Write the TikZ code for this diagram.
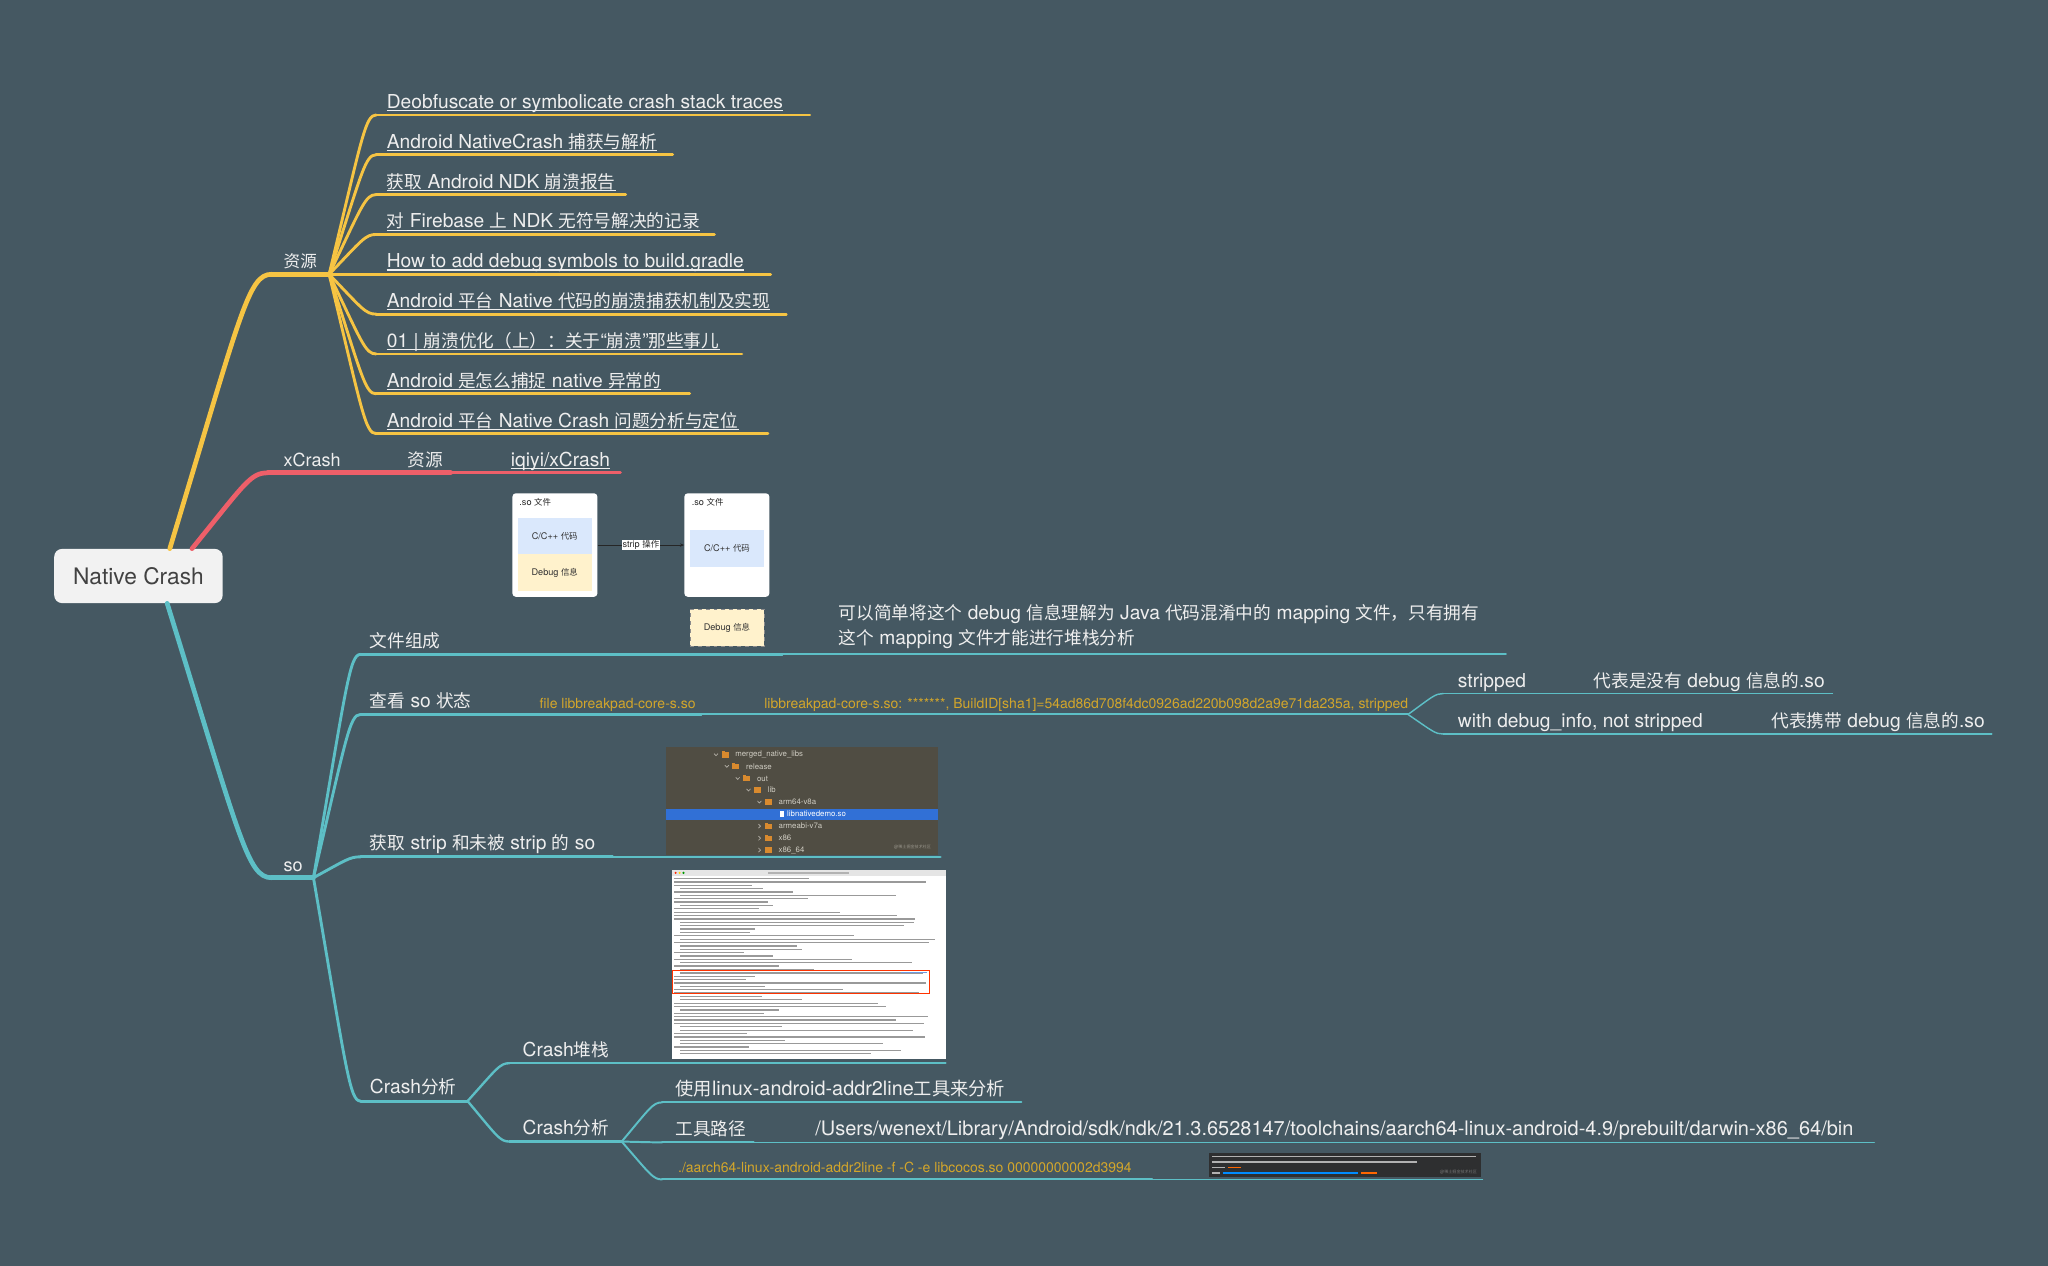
\documentclass[tikz,border=0pt]{standalone}
\usepackage{fontspec}
\setmainfont{TeX Gyre Heros}
\newfontfamily\cjkfont[Scale=0.92]{Noto Sans CJK SC}
\usetikzlibrary{calc,arrows.meta}

% automatic switch to the CJK family for Han characters and fullwidth forms
\XeTeXinterchartokenstate=1
\newXeTeXintercharclass\hanclass
\newcount\hanloop
\hanloop="2E80
\loop
  \XeTeXcharclass\hanloop=\hanclass
  \advance\hanloop by 1
\ifnum\hanloop<"A000 \repeat
\hanloop="FF00
\loop
  \XeTeXcharclass\hanloop=\hanclass
  \advance\hanloop by 1
\ifnum\hanloop<"FFF0 \repeat
\XeTeXcharclass"201C=0
\XeTeXcharclass"201D=0
\XeTeXinterchartoks 0 \hanclass = {\cjkfont}
\XeTeXinterchartoks 4095 \hanclass = {\cjkfont}
\XeTeXinterchartoks \hanclass 0 = {\rmfamily}
\XeTeXinterchartoks \hanclass 4095 = {\rmfamily}

\definecolor{bg}{HTML}{455862}
\definecolor{yel}{HTML}{F6C443}
\definecolor{redb}{HTML}{EE5F69}
\definecolor{tealb}{HTML}{5DBFC6}
\definecolor{txt}{HTML}{EEEEEE}
\definecolor{codec}{HTML}{D3A62B}
\definecolor{rootfill}{HTML}{F2F2F2}
\definecolor{roottext}{HTML}{424242}
\definecolor{dblue}{HTML}{DAE8FC}
\definecolor{dyel}{HTML}{FFF2CC}
\definecolor{treebg}{HTML}{504D43}
\definecolor{treetx}{HTML}{CFCCC2}
\definecolor{folder}{HTML}{D98A2E}
\definecolor{hl}{HTML}{3170D6}
\definecolor{termbg}{HTML}{2E2F30}

% a topic's underline: named start/end coordinates
\newcommand\topicline[5]{%
  \coordinate (#1-s) at (#2,#4);\coordinate (#1-e) at (#3,#4);
  \draw[#5] (#1-s) -- (#1-e);}
% curved branch from a parent's end to a child's start
\newcommand\branchto[3]{%
  \draw[#1] let \p1=(#2), \p2=(#3) in (\p1) .. controls
    ({\x1+0.7*(\x2-\x1)},{\y1+0.86*(\y2-\y1)}) and ({\x1+0.77*(\x2-\x1)},\y2) .. (\p2);}
% underlined link text
\newcommand\ulabel[3]{%
  \node[lab] (#1) at (#2) {#3};
  \draw[uline] ([yshift=-1.7pt]#1.base west) -- ([yshift=-1.7pt]#1.base east);}
% a folder row of the file tree
\newcommand\treedir[5]{%
  \pgfmathsetmacro\tcx{548.2+8.3*#3}%
  \ifnum#4=1
    \draw[chev] (\tcx-1.5,#2-0.9) -- (\tcx,#2+0.7) -- (\tcx+1.5,#2-0.9);
  \else
    \draw[chev] (\tcx-0.7,#2-1.6) -- (\tcx+0.9,#2) -- (\tcx-0.7,#2+1.6);
  \fi
  \fill[folder] (\tcx+4.2,#2-2.0) rectangle (\tcx+9.6,#2+2.1);
  \fill[folder] (\tcx+4.2,#2-2.7) rectangle (\tcx+6.6,#2-2.0);
  \node[treetxt] (#1) at (\tcx+14.6,#2) {#5};}

\tikzset{
  ybr1/.style={yel, line width=3.6pt, line cap=round},
  ybr2/.style={yel, line width=2.2pt, line cap=round},
  rbr1/.style={redb, line width=3.6pt, line cap=round},
  rbr2/.style={redb, line width=2.2pt, line cap=round},
  tbr1/.style={tealb, line width=3.6pt, line cap=round},
  tbr2/.style={tealb, line width=2.2pt, line cap=round},
  tbr3/.style={tealb, line width=1.8pt, line cap=round},
  tbr4/.style={tealb, line width=1.5pt, line cap=round},
  tbr5/.style={tealb, line width=1.1pt, line cap=round},
  tbr6/.style={tealb, line width=0.85pt, line cap=round},
  lab/.style={anchor=base west, inner sep=0pt, text=txt, font=\fontsize{14.7}{17}\selectfont},
  lab1/.style={lab, font=\fontsize{13.8}{16}\selectfont},
  code/.style={anchor=base west, inner sep=0pt, text=codec, font=\fontsize{10.7}{12}\selectfont},
  uline/.style={txt, line width=0.8pt},
  rootbox/.style={fill=rootfill, rounded corners=6pt, minimum width=129pt, minimum height=41.5pt,
    inner sep=0pt, text=roottext, font=\fontsize{17.4}{20}\selectfont},
  sobox/.style={fill=white, rounded corners=2.5pt, minimum width=65pt, minimum height=79.2pt, inner sep=0pt},
  part/.style={minimum width=56.5pt, minimum height=28pt, inner sep=0pt, text=black!80,
    font=\fontsize{7}{8}\selectfont},
  small/.style={inner sep=0pt, text=black!85, font=\fontsize{7}{8}\selectfont},
  treetxt/.style={anchor=west, inner sep=0pt, text=treetx, font=\fontsize{6}{7}\selectfont},
  chev/.style={treetx!80!treebg, line width=0.5pt},
  shotline/.style={black!40, line width=1.0pt},
  termline/.style={black!30, line width=0.9pt},
}

\begin{document}
\begin{tikzpicture}[x=1pt,y=-1pt]
\fill[bg] (0,0) rectangle (1568,969);
\useasboundingbox (0,0) rectangle (1568,969);

% ---------- central topic ----------
\node[rootbox] (root) at (106,441) {Native Crash};
\coordinate (y0) at ([xshift=24pt]root.north);
\coordinate (r0) at ([xshift=41pt]root.north);
\coordinate (t0) at ([xshift=22pt]root.south);

% ---------- 资源 (yellow) ----------
\topicline{res}{208}{252}{210}{ybr1}
\branchto{ybr1}{y0}{res-s}
\node[lab1] (resT) at (217,205) {资源};

\topicline{ya}{288}{620}{88}{ybr2}
\topicline{yb}{288}{515}{118.5}{ybr2}
\topicline{yc}{288}{479}{149}{ybr2}
\topicline{yd}{288}{547}{179.5}{ybr2}
\topicline{ye}{288}{590}{210}{ybr2}
\topicline{yf}{288}{602}{240.5}{ybr2}
\topicline{yg}{288}{568}{271}{ybr2}
\topicline{yh}{288}{528}{301.5}{ybr2}
\topicline{yi}{288}{588}{332}{ybr2}
\foreach \c in {ya,yb,yc,yd,ye,yf,yg,yh,yi} {\branchto{ybr2}{res-e}{\c-s}}
\ulabel{yaT}{296,83}{Deobfuscate or symbolicate crash stack traces}
\ulabel{ybT}{296,113.5}{Android NativeCrash 捕获与解析}
\ulabel{ycT}{296,144}{获取 Android NDK 崩溃报告}
\ulabel{ydT}{296,174.5}{对 Firebase 上 NDK 无符号解决的记录}
\ulabel{yeT}{296,205}{How to add debug symbols to build.gradle}
\ulabel{yfT}{296,235.5}{Android 平台 Native 代码的崩溃捕获机制及实现}
\ulabel{ygT}{296,266}{01 | 崩溃优化（上）：关于“崩溃”那些事儿}
\ulabel{yhT}{296,296.5}{Android 是怎么捕捉 native 异常的}
\ulabel{yiT}{296,327}{Android 平台 Native Crash 问题分析与定位}

% ---------- xCrash (red) ----------
\topicline{xc}{205}{300}{362}{rbr1}
\branchto{rbr1}{r0}{xc-s}
\node[lab1] (xcT) at (217,357) {xCrash};
\topicline{xr}{300}{345}{362}{rbr1}
\node[lab] (xrT) at (312,357) {资源};
\topicline{xi}{345}{475}{362}{rbr2}
\ulabel{xiT}{391,357}{iqiyi/xCrash}

% ---------- so (teal) ----------
\topicline{so}{208}{240}{672}{tbr1}
\branchto{tbr1}{t0}{so-s}
\node[lab1] (soT) at (217,667) {so};

% 文件组成
\topicline{wj}{276}{344}{501}{tbr2}
\branchto{tbr2}{so-e}{wj-s}
\node[lab] (wjT) at (283,496) {文件组成};
\topicline{wji}{344}{599}{501}{tbr3}
\topicline{wjt}{599}{1153}{501}{tbr4}
\node[lab] (mapA) at (642,474.5) {可以简单将这个 debug 信息理解为 Java 代码混淆中的 mapping 文件，只有拥有};
\node[lab] (mapB) at (642,493.5) {这个 mapping 文件才能进行堆栈分析};

% strip diagram
\node[sobox] (lbox) at (424.85,417.3) {};
\node[sobox] (rbox) at (556.5,417.3) {};
\node[small, anchor=west] (lso) at (397.5,384.6) {.so 文件};
\node[small, anchor=west] (rso) at (529.5,384.6) {.so 文件};
\node[part, fill=dblue] (lcode) at (424.7,410.4) {C/C++ 代码};
\node[part, fill=dyel] (ldbg) at (424.7,438.35) {Debug 信息};
\node[part, fill=dblue] (rcode) at (556.55,419.85) {C/C++ 代码};
\node[part, fill=dyel, draw=black!45, dashed, line width=0.5pt] (rdbg) at (556.55,480.55) {Debug 信息};
\draw[black!85, line width=0.7pt, -{Stealth[length=3.2pt,width=2.6pt]}] (lbox.east) -- (rbox.west)
  node[midway, fill=white, small, inner sep=0.6pt] (stripop) {strip 操作};

% 查看 so 状态
\topicline{ck}{276}{367}{547}{tbr2}
\branchto{tbr2}{so-e}{ck-s}
\node[lab] (ckT) at (283,541.5) {查看 so 状态};
\topicline{ckf}{367}{537}{547}{tbr3}
\node[code] (ckfT) at (413,542.4) {file libbreakpad-core-s.so};
\topicline{cko}{537}{1078}{547}{tbr4}
\node[code] (ckoT) at (585,542.4) {libbreakpad-core-s.so: *******, BuildID[sha1]=54ad86d708f4dc0926ad220b098d2a9e71da235a, stripped};
\topicline{st}{1105}{1176}{531}{tbr5}
\branchto{tbr5}{cko-e}{st-s}
\node[lab] (stT) at (1116,526) {stripped};
\topicline{std}{1176}{1403}{531}{tbr6}
\node[lab] (stdT) at (1220,526) {代表是没有 debug 信息的.so};
\topicline{wd}{1105}{1313}{562}{tbr5}
\branchto{tbr5}{cko-e}{wd-s}
\node[lab] (wdT) at (1116,557) {with debug\_info, not stripped};
\topicline{wdd}{1313}{1525}{562}{tbr6}
\node[lab] (wddT) at (1356,557) {代表携带 debug 信息的.so};

% 获取 strip 和未被 strip 的 so
\topicline{hq}{276}{469}{656}{tbr2}
\branchto{tbr2}{so-e}{hq-s}
\node[lab] (hqT) at (283,650.5) {获取 strip 和未被 strip 的 so};
\topicline{hqi}{469}{720}{656}{tbr3}

% file tree
\fill[treebg] (510,572.2) rectangle (718,654.7);
\treedir{tr1}{577.9}{0}{1}{merged\_native\_libs}
\treedir{tr2}{586.8}{1}{1}{release}
\treedir{tr3}{596.0}{2}{1}{out}
\treedir{tr4}{604.9}{3}{1}{lib}
\treedir{tr5}{614.1}{4}{1}{arm64-v8a}
\fill[hl] (510,619) rectangle (718,628);
\fill[white] (597,621.1) rectangle (600.3,625.6);
\node[treetxt, text=white] (tr6) at (602.5,623.3) {libnativedemo.so};
\treedir{tr7}{632.5}{4}{0}{armeabi-v7a}
\treedir{tr8}{641.7}{4}{0}{x86}
\treedir{tr9}{650.8}{4}{0}{x86\_64}
\node[inner sep=0pt, anchor=east, text=treetx!55!treebg, font=\fontsize{3.4}{4}\selectfont] (trmark) at (713,648.5) {@稀土掘金技术社区};

% Crash分析
\topicline{ca}{276}{358}{843}{tbr2}
\branchto{tbr2}{so-e}{ca-s}
\node[lab] (caT) at (283,837.5) {Crash分析};
\topicline{cs}{390}{472}{814}{tbr3}
\branchto{tbr3}{ca-e}{cs-s}
\node[lab] (csT) at (400,808.5) {Crash堆栈};
\topicline{csi}{472}{724}{814}{tbr4}

% tombstone screenshot
\fill[white] (514.3,666.2) rectangle (724.1,810.9);
\fill[black!10] (514.3,666.2) rectangle (724.1,670.4);
\fill[black!30] (588,667.6) rectangle (650,669.0);
\fill[red!70!orange] (517.3,668.3) circle (0.9);
\fill[yellow!80!orange] (520.3,668.3) circle (0.9);
\fill[green!60!black] (523.3,668.3) circle (0.9);
\begin{scope}
  \pgfmathsetseed{17}
  \foreach \i in {0,...,52} {
    \pgfmathsetmacro\ly{672.6+2.58*\i}
    \pgfmathsetmacro\lx{rnd<0.45 ? 521 : 516}
    \pgfmathsetmacro\ll{50+150*rnd}
    \draw[shotline] (\lx,\ly) -- ({min(\lx+\ll,720)},\ly);
  }
\end{scope}
\fill[hl!70] (690,743.9) rectangle (710,745.3);
\draw[red!60!orange, line width=0.7pt] (514.8,742.7) rectangle (711.6,760.6);

\topicline{cb}{390}{476}{874}{tbr3}
\branchto{tbr3}{ca-e}{cb-s}
\node[lab] (cbT) at (400,868.5) {Crash分析};

\topicline{sy}{507}{782}{844}{tbr4}
\branchto{tbr4}{cb-e}{sy-s}
\node[lab, font=\fontsize{15.2}{17}\selectfont] (syT) at (517,838.5) {使用linux-android-addr2line工具来分析};

\topicline{gj}{507}{577}{874.6}{tbr4}
\branchto{tbr4}{cb-e}{gj-s}
\node[lab] (gjT) at (517,869) {工具路径};
\topicline{gp}{577}{1435}{874.6}{tbr5}
\node[lab, font=\fontsize{15.3}{17}\selectfont] (gpT) at (624,869) {/Users/wenext/Library/Android/sdk/ndk/21.3.6528147/toolchains/aarch64-linux-android-4.9/prebuilt/darwin-x86\_64/bin};

\topicline{ad}{507}{882}{903}{tbr4}
\branchto{tbr4}{cb-e}{ad-s}
\node[code] (adT) at (519,898) {./aarch64-linux-android-addr2line -f -C -e libcocos.so 00000000002d3994};
\topicline{adi}{882}{1135}{903}{tbr5}

% terminal screenshot
\fill[termbg] (926,883) rectangle (1134,901.4);
\draw[termline] (928,885.6) -- (1130,885.6);
\draw[termline] (928,889.6) -- (1085,889.6);
\draw[termline] (928,893.8) -- (938,893.8);
\draw[orange!80!red, line width=0.9pt] (940,893.8) -- (950,893.8);
\draw[termline] (928,898) -- (934,898);
\draw[blue!45!cyan, line width=0.9pt] (936,898) -- (1040,898);
\draw[orange!80!red, line width=0.9pt] (1042,898) -- (1054,898);
\node[inner sep=0pt, anchor=east, text=black!55, font=\fontsize{3.4}{4}\selectfont] (tmark) at (1131,897.5) {@稀土掘金技术社区};

\end{tikzpicture}
\end{document}
